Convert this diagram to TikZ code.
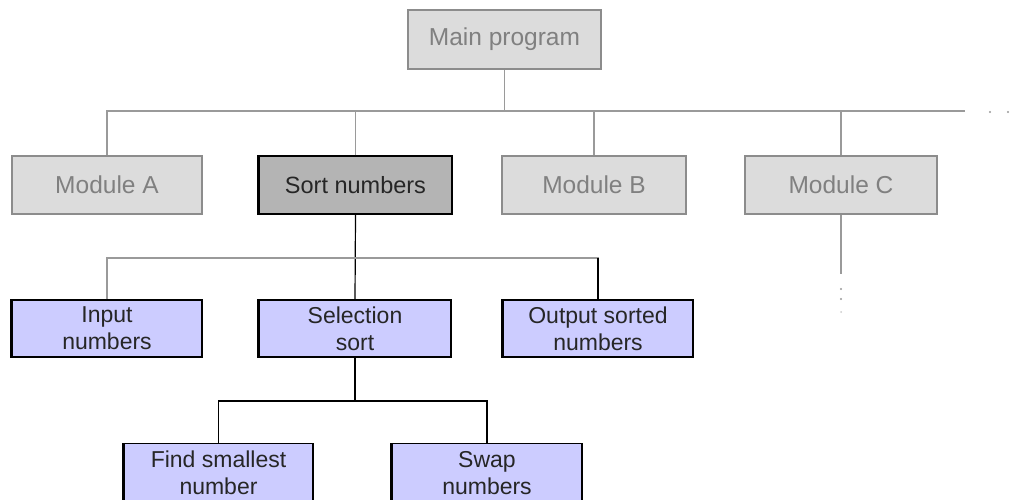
\documentclass[tikz,border=0pt]{standalone}
\usepackage{fontspec}
\setmainfont{Liberation Sans}
\definecolor{ghostfill}{HTML}{DCDCDC}
\definecolor{ghostline}{HTML}{8C8C8C}
\definecolor{ghosttext}{HTML}{808080}
\definecolor{sortfill}{HTML}{B4B4B4}
\definecolor{bluefill}{HTML}{CCCCFF}
\definecolor{buscol}{HTML}{9A9A9A}
\tikzset{
  ghostbox/.style={draw=ghostline, line width=1.2pt, fill=ghostfill, text=ghosttext,
    minimum width=190pt, minimum height=58pt, inner sep=0pt,
    font=\fontsize{24.5pt}{28pt}\selectfont},
  sortbox/.style={draw=black, line width=1.3pt, fill=sortfill, text=black!85,
    minimum width=193pt, minimum height=58pt, inner sep=0pt,
    font=\fontsize{23.5pt}{28pt}\selectfont},
  bluebox/.style={draw=black, line width=1.3pt, fill=bluefill, text=black!85,
    minimum width=190pt, minimum height=57pt, inner sep=0pt, align=center,
    font=\fontsize{23pt}{27pt}\selectfont},
  glin/.style={draw=buscol, line width=1.2pt},
  blin/.style={draw=black, line width=1.2pt},
  dotmark/.style={fill=buscol, draw=none},
}
\begin{document}
\begin{tikzpicture}[x=1pt,y=-1pt]
\useasboundingbox (0,0) rectangle (1024,499);
\clip (0,0) rectangle (1024,499);
\fill[white] (0,0) rectangle (1024,499);

% top
\node[ghostbox, minimum width=193pt, minimum height=59pt] (main) at (504.5,39.5) {Main program};
% level 1
\node[ghostbox] (modA) at (107,185) {Module A};
\node[sortbox]  (sort) at (355.5,185) {Sort numbers};
\node[ghostbox, minimum width=184pt] (modB) at (594,185) {Module B};
\node[ghostbox, minimum width=192pt] (modC) at (841,185) {Module C};
% level 2
\node[bluebox] (inp) at (107,328.5) {Input\\numbers};
\node[bluebox, minimum width=192pt] (sel) at (355,328.5) {Selection\\sort};
\node[bluebox] (outp) at (598,328.5) {Output sorted\\numbers};
% level 3
\node[bluebox, minimum width=189pt, minimum height=58pt, anchor=north] (find) at (218.5,443) {Find smallest\\number};
\node[bluebox, minimum height=58pt, anchor=north] (swap) at (487,443) {Swap\\numbers};

% thicker left edges
\foreach \n in {sort,inp,sel,outp,find,swap}
  \draw[line width=2.4pt] (\n.north west) -- (\n.south west);

% junction coordinates
\coordinate (j1) at (504.5,111);
\coordinate (busend) at (965,111);
\coordinate (j2) at (355.5,258);
\coordinate (j3) at (355,401);
\coordinate (cdown) at (841,274);

% connectors level 0 -> 1
\draw[glin] (main.south) -- (j1);
\draw[glin] (modA.north) |- (busend);
\draw[glin] (sort.north) -- (sort.north |- j1);
\draw[glin] (modB.north) -- (modB.north |- j1);
\draw[glin] (modC.north) -- (modC.north |- j1);
\draw[glin] (modC.south) -- (cdown);

% connectors level 1 -> 2
\draw[blin] (sort.south) -- (sel.north);
\draw[glin] (inp.north) |- (j2) -| (outp.north);
\draw[blin] (outp.north) -- (outp.north |- j2);

% connectors level 2 -> 3
\draw[blin] (sel.south) -- (j3);
\draw[blin] (find.north) |- (j3) -| (swap.north);

% ellipsis dots
\fill[dotmark] (990,112) circle (1.2);
\fill[dotmark] (1008,112) circle (1.2);
\fill[dotmark] (841,289) circle (1.2);
\fill[dotmark] (841,299) circle (1.2);
\fill[dotmark, opacity=0.5] (841,312) circle (1);
\end{tikzpicture}
\end{document}
